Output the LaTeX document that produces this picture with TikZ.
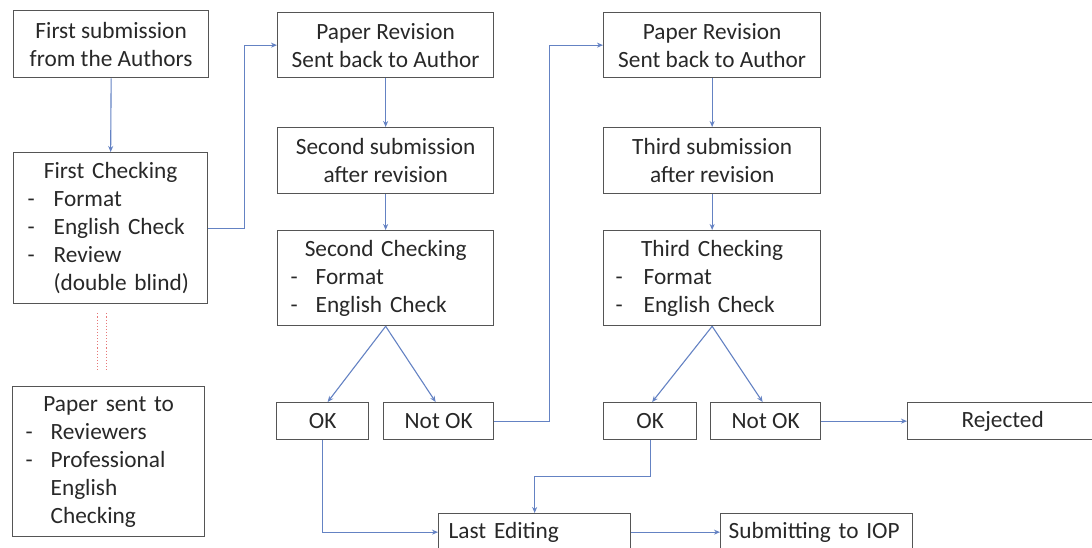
\documentclass[tikz,border=0pt]{standalone}
\usepackage{fontspec}
\setmainfont{Carlito}
\usetikzlibrary{arrows.meta}
\definecolor{boxc}{RGB}{85,85,85}
\definecolor{linec}{RGB}{100,130,195}
\definecolor{dotc}{RGB}{230,120,120}
\definecolor{txtc}{RGB}{40,40,40}
\begin{document}
\begin{tikzpicture}[x=1pt,y=-1pt,
  box/.style={draw=boxc,line width=1.3pt,rectangle,inner sep=0pt,anchor=north west,
    text=txtc,font=\fontsize{23.3}{28}\selectfont,align=center},
  listbox/.style={box,align=left},
  conn/.style={draw=linec,line width=1.1pt,-{Stealth[length=6pt,width=5pt]}},
  dots/.style={draw=dotc,dotted,line width=1.1pt},
]
\useasboundingbox (0,0) rectangle (1092,548);
\clip (0,0) rectangle (1092,548);

% column 1
\node[box,minimum width=195pt,minimum height=67pt] (fs) at (13,10)
  {First submission\\from the Authors};
\node[listbox,minimum width=194pt,minimum height=151pt,text width=194pt] (fc) at (13,152)
  {\makebox[\linewidth]{First Checking}\\
   \hspace*{14pt}\makebox[26pt][l]{-}Format\\
   \hspace*{14pt}\makebox[26pt][l]{-}English Check\\
   \hspace*{14pt}\makebox[26pt][l]{-}Review\\
   \hspace*{40pt}(double blind)};
\node[listbox,minimum width=192pt,minimum height=150pt,text width=192pt] (ps) at (12,386)
  {\makebox[\linewidth]{Paper sent to}\\
   \hspace*{13pt}\makebox[25pt][l]{-}Reviewers\\
   \hspace*{13pt}\makebox[25pt][l]{-}Professional\\
   \hspace*{38pt}English\\
   \hspace*{38pt}Checking};

% column 2
\node[box,minimum width=216pt,minimum height=65pt] (pr1) at (277,12)
  {Paper Revision\\Sent back to Author};
\node[box,minimum width=216pt,minimum height=66pt] (ss) at (277,127)
  {Second submission\\after revision};
\node[listbox,minimum width=216pt,minimum height=95pt,text width=216pt] (sc) at (277,230)
  {\makebox[\linewidth]{Second Checking}\\
   \hspace*{13pt}\makebox[25pt][l]{-}Format\\
   \hspace*{13pt}\makebox[25pt][l]{-}English Check};
\node[box,minimum width=92pt,minimum height=37pt] (ok1) at (276,402) {OK};
\node[box,minimum width=110pt,minimum height=37pt] (nok1) at (383,402) {Not OK};

% column 3
\node[box,minimum width=217pt,minimum height=65pt] (pr2) at (603,12)
  {Paper Revision\\Sent back to Author};
\node[box,minimum width=217pt,minimum height=66pt] (ts) at (603,127)
  {Third submission\\after revision};
\node[listbox,minimum width=217pt,minimum height=95pt,text width=217pt] (tc) at (603,230)
  {\makebox[\linewidth]{Third Checking}\\
   \hspace*{12pt}\makebox[28pt][l]{-}Format\\
   \hspace*{12pt}\makebox[28pt][l]{-}English Check};
\node[box,minimum width=93pt,minimum height=37pt] (ok2) at (603,402) {OK};
\node[box,minimum width=110pt,minimum height=37pt] (nok2) at (710,402) {Not OK};
\node[box,minimum width=190pt,minimum height=37pt] (rej) at (907,402) {Rejected};

% bottom row
\node[box,align=left,text width=172pt,inner xsep=10pt,minimum height=37pt] (le) at (438,513) {Last Editing};
\node[box,align=left,text width=176pt,inner xsep=8pt,minimum height=37pt] (sub) at (720,513) {Submitting to IOP};

% connectors
\draw[conn] (fs.south) -- (fc.north);
\draw[conn] (fc.east) -- ++(36,0) |- (pr1.west);
\draw[conn] (pr1.south) -- (ss.north);
\draw[conn] (ss.south) -- (sc.north);
\draw[conn] (sc.south) -- ([xshift=5pt]ok1.north);
\draw[conn] (sc.south) -- ([xshift=-3pt]nok1.north);
\draw[conn] (nok1.east) -- ++(55,0) |- (pr2.west);
\draw[conn] (ok1.south) |- (le.west);
\draw[conn] (pr2.south) -- (ts.north);
\draw[conn] (ts.south) -- (tc.north);
\draw[conn] (tc.south) -- ([xshift=2pt]ok2.north);
\draw[conn] (tc.south) -- ([xshift=-3pt]nok2.north);
\draw[conn] (nok2.east) -- (rej.west);
\draw[conn] (ok2.south) -- ++(0,36) -| (le.north);
\draw[conn] (le.east) -- (sub.west);

% dotted double link
\draw[dots] (fc.south) ++(-13,9) -- ++(0,58);
\draw[dots] (fc.south) ++(-4,9) -- ++(0,58);
\end{tikzpicture}
\end{document}
